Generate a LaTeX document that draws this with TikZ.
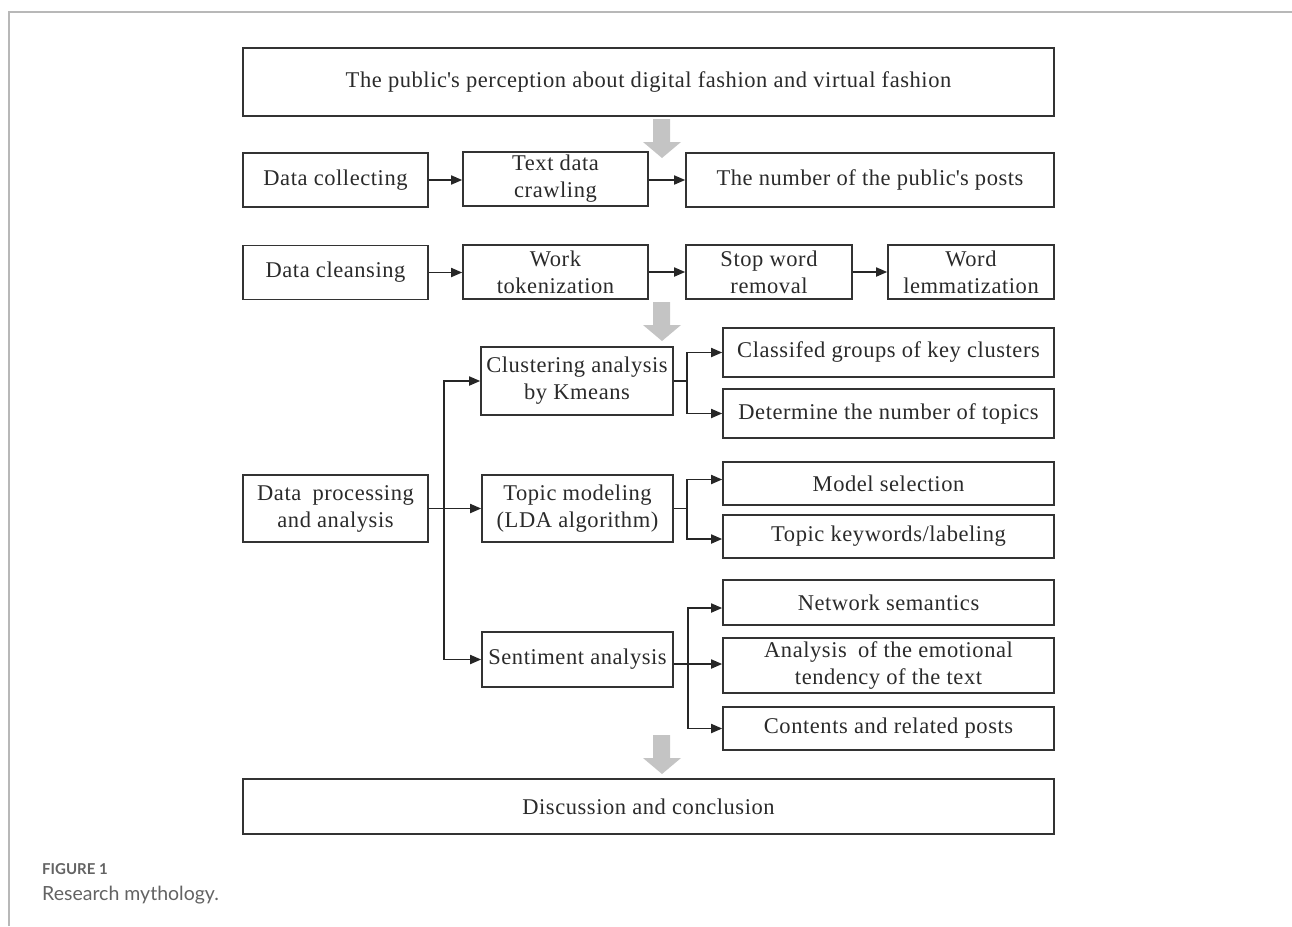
\documentclass[tikz,border=0pt]{standalone}
\usepackage{fontspec}
\setmainfont[LetterSpace=2.5]{Liberation Serif}
\newfontfamily\capfont{Lato}
\usetikzlibrary{arrows.meta}
\definecolor{boxline}{HTML}{333333}
\definecolor{txt}{HTML}{2A2A2A}
\definecolor{framegray}{HTML}{B8B8B8}
\definecolor{arrowgray}{HTML}{C4C4C4}
\definecolor{capgray}{HTML}{636363}
\begin{document}
\begin{tikzpicture}[x=1pt,y=-1pt,
  box/.style={draw=boxline, line width=1.6pt, inner sep=0pt, align=center, text=txt,
              font=\fontsize{22.5}{27}\selectfont},
  conn/.style={draw=black!85, line width=1.7pt, -{Triangle[length=11pt,width=9pt]}},
  link/.style={draw=black!85, line width=1.7pt}]
\useasboundingbox (0,0) rectangle (1292,926);
% frame
\draw[framegray, line width=1.2pt] (9,926) -- (9,12) -- (1292,12);
% boxes
\node[box, minimum width=811pt, minimum height=68pt] (pub) at (648.5,82) {The public\textquotesingle s perception about digital fashion and virtual fashion};
\node[box, minimum width=185pt, minimum height=54pt] (dc) at (335.5,180) {Data collecting};
\node[box, minimum width=185pt, minimum height=54pt] (tdc) at (555.5,179) {Text data\\crawling};
\node[box, minimum width=368pt, minimum height=54pt] (num) at (870,180) {The number of the public\textquotesingle s posts};
\node[box, minimum width=185pt, minimum height=54pt] (dcl) at (335.5,272.5) {Data cleansing};
\node[box, minimum width=185pt, minimum height=54pt] (wt) at (555.5,272) {Work\\tokenization};
\node[box, minimum width=166pt, minimum height=54pt] (sw) at (769,272) {Stop word\\removal};
\node[box, minimum width=166pt, minimum height=54pt] (wl) at (971,272) {Word\\lemmatization};
\node[box, minimum width=192pt, minimum height=68pt] (clu) at (577,381) {Clustering analysis\\by Kmeans};
\node[box, minimum width=331pt, minimum height=49pt] (cg) at (888.5,352.5) {Classifed groups of key clusters};
\node[box, minimum width=331pt, minimum height=49pt] (det) at (888.5,413.5) {Determine the number of topics};
\node[box, minimum width=185pt, minimum height=67pt] (dp) at (335.5,508.5) {Data\enspace processing\\and analysis};
\node[box, minimum width=191pt, minimum height=67pt] (tm) at (577.5,508.5) {Topic modeling\\(LDA algorithm)};
\node[box, minimum width=331pt, minimum height=43pt] (ms) at (888.5,483.5) {Model selection};
\node[box, minimum width=331pt, minimum height=43pt] (tk) at (888.5,536.5) {Topic keywords/labeling};
\node[box, minimum width=191pt, minimum height=55pt] (sen) at (577.5,659.5) {Sentiment analysis};
\node[box, minimum width=331pt, minimum height=45pt] (ns) at (888.5,602.5) {Network semantics};
\node[box, minimum width=331pt, minimum height=55pt] (ana) at (888.5,665.5) {Analysis\enspace of the emotional\\tendency of the text};
\node[box, minimum width=331pt, minimum height=43pt] (con) at (888.5,728.5) {Contents and related posts};
\node[box, minimum width=811pt, minimum height=55pt] (disc) at (648.5,806.5) {Discussion and conclusion};
% gray flow arrows
\foreach \t in {119,302,735}
  \fill[arrowgray] (653,\t) -- (670,\t) -- (670,\t+23) -- (681,\t+23) -- (662,\t+39) -- (643,\t+23) -- (653,\t+23) -- cycle;
% row connectors
\draw[conn] (dc) -- (tdc.west |- dc);
\draw[conn] (tdc.east |- num) -- (num);
\draw[conn] (dcl) -- (wt.west |- dcl);
\draw[conn] (wt) -- (sw);
\draw[conn] (sw) -- (wl);
% left branch
\coordinate (lj) at (444,508.5);
\draw[link] (dp) -- (lj);
\draw[conn] (lj) |- (clu);
\draw[conn] (lj) -- (tm);
\draw[conn] (lj) |- (sen);
% clustering branch
\coordinate (cj) at (687,381);
\draw[link] (clu) -- (cj);
\draw[conn] (cj) |- (cg);
\draw[conn] (cj) |- (det);
% topic branch
\coordinate (tj) at (687,508.5);
\draw[link] (tm) -- (tj);
\draw[conn] (tj) |- ([yshift=4pt]ms.west);
\draw[conn] (tj) |- ([yshift=-2.5pt]tk.west);
% sentiment branch
\coordinate (sj) at (688,664);
\draw[link] (sen.east |- sj) -- (sj);
\draw[conn] (sj) |- ([yshift=-5.5pt]ns.west);
\draw[conn] (sj) -- (ana.west |- sj);
\draw[conn] (sj) |- (con);
% caption
\node[anchor=base west, inner sep=0pt, text=capgray, font=\capfont\bfseries\fontsize{15}{18}\selectfont] (fig) at (42,874) {FIGURE 1};
\node[anchor=base west, inner sep=0pt, text=capgray, font=\capfont\fontsize{19.5}{23}\selectfont] (cap) at (42,900) {Research mythology.};
\end{tikzpicture}
\end{document}
